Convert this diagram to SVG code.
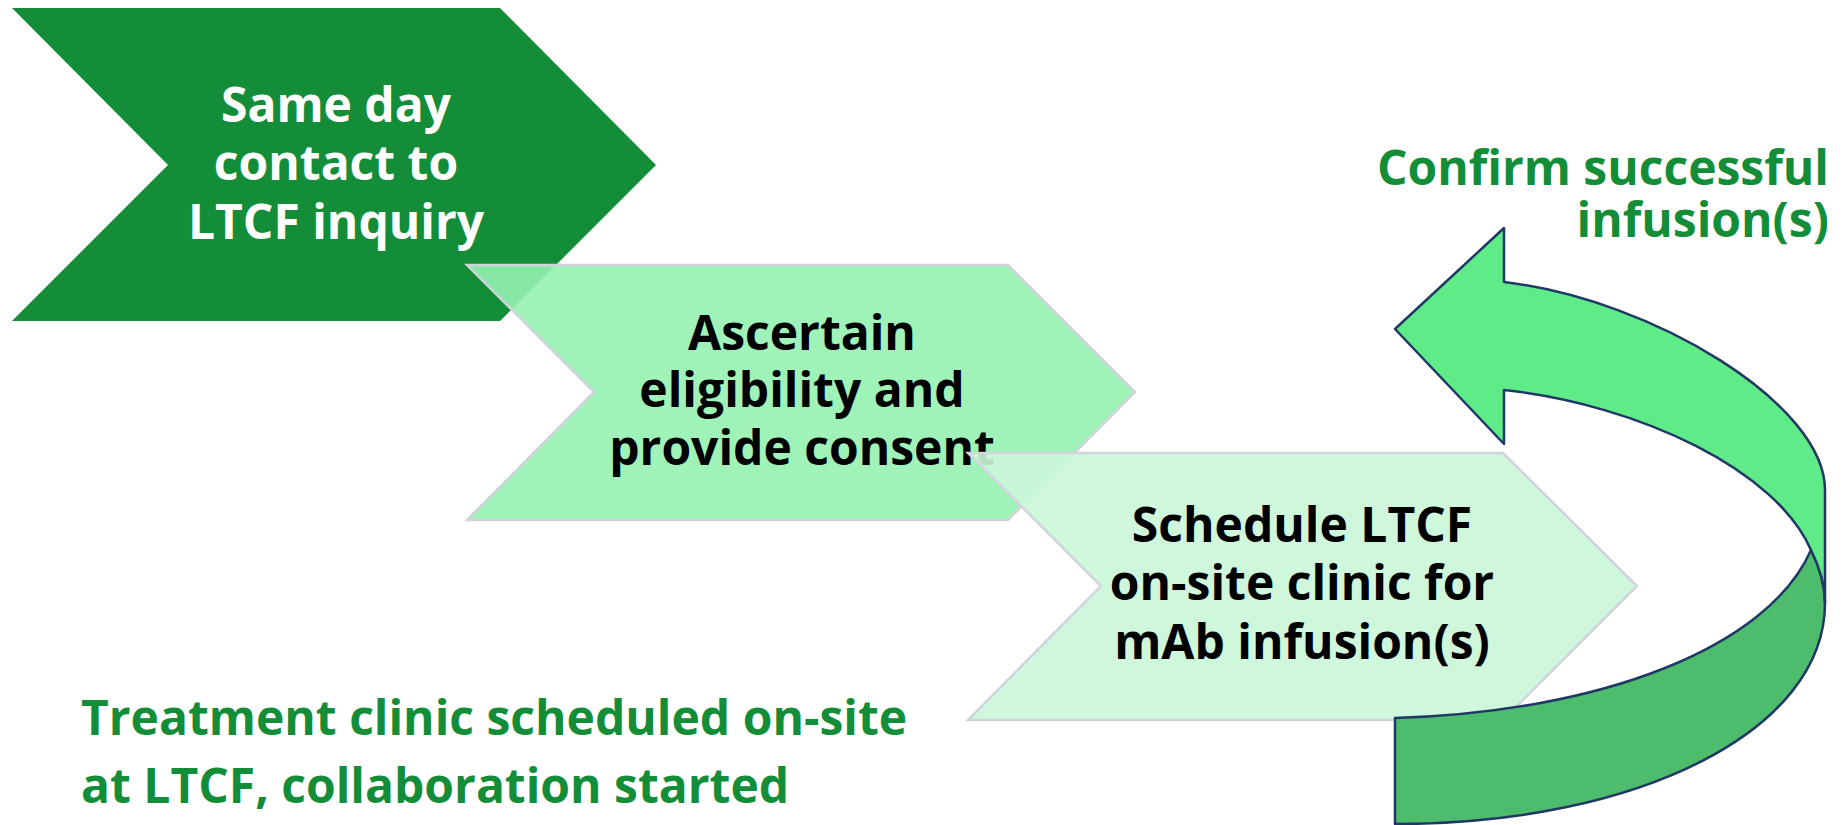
<svg xmlns="http://www.w3.org/2000/svg" width="1844" height="825" viewBox="0 0 1844 825">
<style>
.t{font-family:"Open Sans","DejaVu Sans",sans-serif;font-weight:700;font-size:48px;text-anchor:middle}
.w{fill:#ffffff}
.k{fill:#000000}
.g{fill:#138D37;font-family:"Open Sans","DejaVu Sans",sans-serif;font-weight:700;font-size:48px}
.chev2{fill:#95F1B0;fill-opacity:0.9;stroke:#D2D4DC;stroke-width:2.5}
.chev3{fill:#CAF6D8;fill-opacity:0.9;stroke:#D2D4DC;stroke-width:2.5}
.arr{stroke:#1F3864;stroke-width:2.5;stroke-linejoin:round}
</style>
<rect width="1844" height="825" fill="#ffffff"/>
<g id="step1">
<polygon points="12,8 500,8 656,165 500,321 12,321 168,165" fill="#138D37"/>
<text class="t w" x="336" y="122">Same day</text>
<text class="t w" x="336" y="180">contact to</text>
<text class="t w" x="336" y="239">LTCF inquiry</text>
</g>
<g id="step2">
<polygon class="chev2" points="467,265 1008,265 1135,392 1008,520 467,520 594,392"/>
<text class="t k" x="802" y="350">Ascertain</text>
<text class="t k" x="802" y="407">eligibility and</text>
<text class="t k" x="802" y="465">provide consent</text>
</g>
<g id="step3">
<polygon class="chev3" points="968,453 1503,453 1637,586 1503,720 968,720 1101,586"/>
<text class="t k" x="1302" y="542">Schedule LTCF</text>
<text class="t k" x="1302" y="600">on-site clinic for</text>
<text class="t k" x="1302" y="659">mAb infusion(s)</text>
</g>
<g id="connectors">
<path class="arr" fill="#4EBC6D" d="M1395,718 C1600,712 1768,648 1811,550 C1819,566 1825,584 1825,603 C1825,730 1640,824 1395,824 Z"/>
<path class="arr" fill="#5FEB87" d="M1504,282 C1655,300 1825,405 1825,490 L1825,603 C1825,584 1819,566 1811,550 C1776,470 1640,405 1504,390 L1504,444 L1395,329 L1504,228 Z"/>
</g>
<g id="label-confirm">
<text class="g" x="1829" y="185" text-anchor="end">Confirm successful</text>
<text class="g" x="1829" y="237" text-anchor="end">infusion(s)</text>
</g>
<g id="label-treatment">
<text class="g" x="81" y="735">Treatment clinic scheduled on-site</text>
<text class="g" x="81" y="803">at LTCF, collaboration started</text>
</g>
</svg>
